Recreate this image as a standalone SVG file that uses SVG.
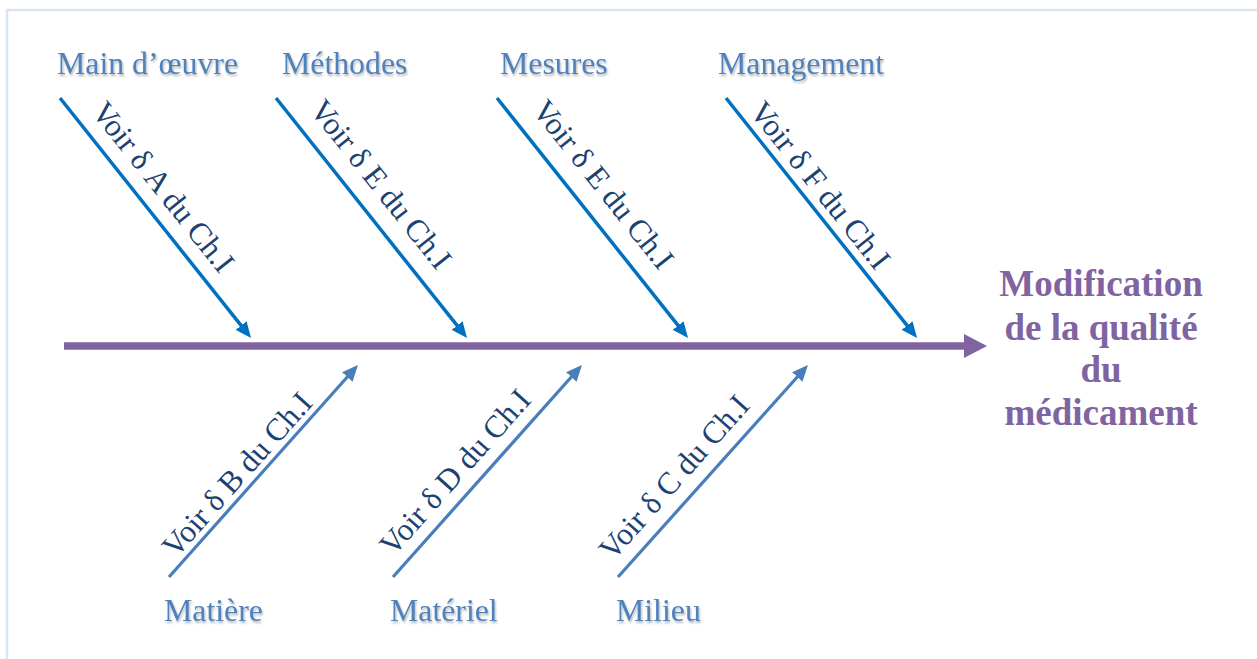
<svg xmlns="http://www.w3.org/2000/svg" width="1257" height="659" viewBox="0 0 1257 659">
  <defs>
    <style>
      .lbl { font-family: "Liberation Serif", "Times New Roman", serif; font-size: 31.8px; fill: #4f81bd; filter: url(#shadow); }
      .rot { font-family: "Liberation Serif", "Times New Roman", serif; font-size: 31.5px; fill: #1c4272; }
      .title { font-family: "Liberation Serif", "Times New Roman", serif; font-size: 37px; font-weight: bold; fill: #8064a2; text-anchor: middle; }
      .top { stroke: #0070c0; stroke-width: 3.5; fill: none; marker-end: url(#headTop); }
      .bot { stroke: #4a7ebb; stroke-width: 3.2; fill: none; marker-end: url(#headBot); }
    </style>
    <filter id="shadow" x="-10%" y="-30%" width="120%" height="170%">
      <feDropShadow dx="1" dy="2" stdDeviation="1.2" flood-color="#000000" flood-opacity="0.3"/>
    </filter>
    <marker id="headTop" viewBox="0 0 16 14" markerUnits="userSpaceOnUse" markerWidth="16" markerHeight="14" refX="6" refY="7" orient="auto">
      <path d="M0,0 L16,7 L0,14 z" fill="#0070c0"/>
    </marker>
    <marker id="headBot" viewBox="0 0 16 14" markerUnits="userSpaceOnUse" markerWidth="16" markerHeight="14" refX="6" refY="7" orient="auto">
      <path d="M0,0 L16,7 L0,14 z" fill="#4a7ebb"/>
    </marker>
  </defs>

  <rect x="0" y="0" width="1257" height="659" fill="#ffffff"/>
  <rect id="frame" x="7" y="10" width="1300" height="700" fill="#ffffff" stroke="#dbe5f1" stroke-width="2.5"/>

  <g id="connectors">
    <g id="spine">
      <line x1="64" y1="346" x2="966" y2="346" stroke="#8064a2" stroke-width="7.5"/>
      <polygon points="964,334 987,346 964,358" fill="#8064a2"/>
    </g>
    <line class="top" x1="60" y1="98" x2="244.8" y2="330.2"/>
    <line class="top" x1="276" y1="98" x2="460.8" y2="330.2"/>
    <line class="top" x1="497" y1="98" x2="681.8" y2="330.2"/>
    <line class="top" x1="726" y1="98" x2="910.8" y2="330.2"/>
    <line class="bot" x1="169" y1="577" x2="351.3" y2="372.5"/>
    <line class="bot" x1="393" y1="577" x2="575.3" y2="372.5"/>
    <line class="bot" x1="618" y1="577" x2="801.3" y2="372.5"/>
  </g>

  <g id="branch-labels">
    <g transform="translate(60,98) rotate(51.5)"><text class="rot" x="30" y="-15">Voir δ A du Ch.I</text></g>
    <g transform="translate(276,98) rotate(51.5)"><text class="rot" x="30" y="-18">Voir δ E du Ch.I</text></g>
    <g transform="translate(497,98) rotate(51.5)"><text class="rot" x="31" y="-19">Voir δ E du Ch.I</text></g>
    <g transform="translate(726,98) rotate(51.5)"><text class="rot" x="25" y="-9">Voir δ F du Ch.I</text></g>
    <g transform="translate(169,577) rotate(-48.3)"><text class="rot" x="18" y="-7">Voir δ B du Ch.I</text></g>
    <g transform="translate(393,577) rotate(-48.3)"><text class="rot" x="15" y="-13">Voir δ D du Ch.I</text></g>
    <g transform="translate(618,577) rotate(-48.3)"><text class="rot" x="8" y="-14">Voir δ C du Ch.I</text></g>
  </g>

  <g id="node-main-oeuvre"><text class="lbl" x="57" y="74">Main d’œuvre</text></g>
  <g id="node-methodes"><text class="lbl" x="282" y="74">Méthodes</text></g>
  <g id="node-mesures"><text class="lbl" x="500" y="74">Mesures</text></g>
  <g id="node-management"><text class="lbl" x="718" y="74">Management</text></g>
  <g id="node-matiere"><text class="lbl" x="164" y="621">Matière</text></g>
  <g id="node-materiel"><text class="lbl" x="390" y="621">Matériel</text></g>
  <g id="node-milieu"><text class="lbl" x="616" y="621">Milieu</text></g>

  <g id="node-effet">
    <text class="title" x="1101" y="296">Modification</text>
    <text class="title" x="1101" y="340">de la qualité</text>
    <text class="title" x="1101" y="382">du</text>
    <text class="title" x="1101" y="425">médicament</text>
  </g>
</svg>
